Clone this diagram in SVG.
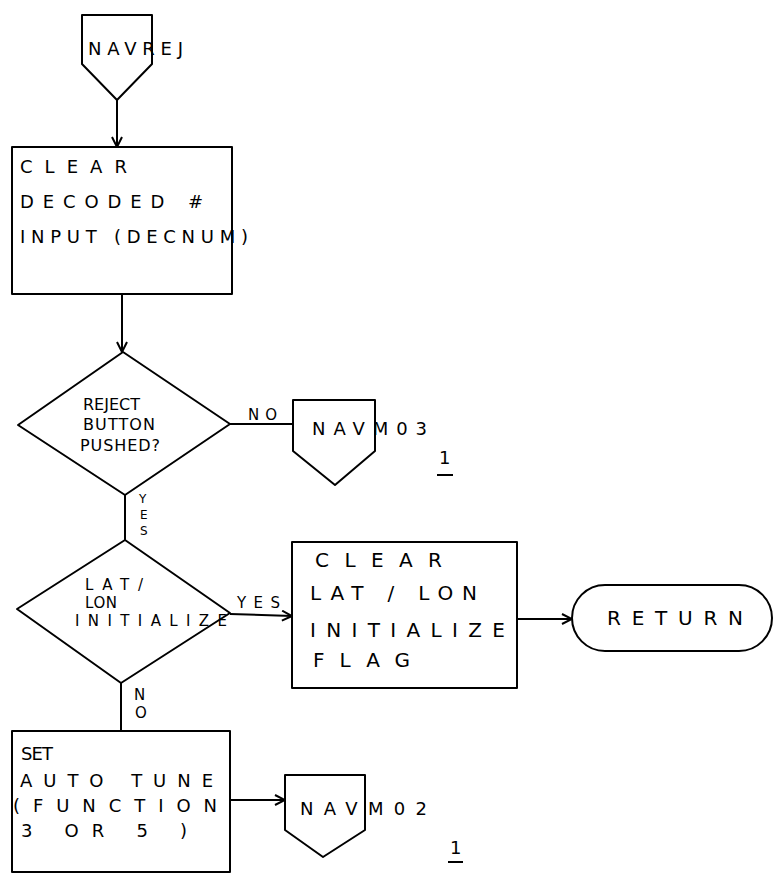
<svg xmlns="http://www.w3.org/2000/svg" width="775" height="875" viewBox="0 0 775 875">
  <style>
    .shape { fill: none; stroke: #000; stroke-width: 2; stroke-linejoin: round; }
    .wire { fill: none; stroke: #000; stroke-width: 2; }
    .t { font-family: "DejaVu Sans", "Liberation Sans", sans-serif; font-size: 18px; fill: #000; }
    .d { font-family: "DejaVu Sans", "Liberation Sans", sans-serif; font-size: 16px; fill: #000; }
    .s { font-family: "DejaVu Sans", "Liberation Sans", sans-serif; font-size: 15px; fill: #000; }
    .v { font-family: "DejaVu Sans", "Liberation Sans", sans-serif; font-size: 12px; fill: #000; }
    .big { font-family: "DejaVu Sans", "Liberation Sans", sans-serif; font-size: 20px; fill: #000; }
  </style>
  <defs>
    <marker id="arrow" viewBox="0 0 12 12" refX="11" refY="6" markerWidth="12" markerHeight="12" markerUnits="userSpaceOnUse" orient="auto">
      <path d="M1,1 L11,6 L1,11" fill="none" stroke="#000" stroke-width="2"/>
    </marker>
  </defs>
  <rect width="775" height="875" fill="#fff"/>

  <!-- connectors -->
  <g id="connectors">
    <line class="wire" x1="117" y1="100" x2="117" y2="147" marker-end="url(#arrow)"/>
    <line class="wire" x1="122" y1="294" x2="122" y2="352" marker-end="url(#arrow)"/>
    <line class="wire" x1="230" y1="424" x2="293" y2="424"/>
    <line class="wire" x1="125" y1="495" x2="125" y2="540"/>
    <line class="wire" x1="230" y1="614" x2="292" y2="616" marker-end="url(#arrow)"/>
    <line class="wire" x1="121" y1="683" x2="121" y2="731"/>
    <line class="wire" x1="517" y1="619" x2="572" y2="619" marker-end="url(#arrow)"/>
    <line class="wire" x1="230" y1="800" x2="285" y2="800" marker-end="url(#arrow)"/>
    <!-- branch labels -->
    <text class="s" x="248" y="420" textLength="29" lengthAdjust="spacing">NO</text>
    <text class="v" x="139" y="503">Y</text>
    <text class="v" x="140" y="519">E</text>
    <text class="v" x="140" y="535">S</text>
    <text class="s" x="237" y="608" textLength="43" lengthAdjust="spacing">YES</text>
    <text class="s" x="134" y="700">N</text>
    <text class="s" x="135" y="718">O</text>
  </g>

  <!-- entry connector -->
  <g id="navrej">
    <path class="shape" d="M82,15 L152,15 L152,64 L117,100 L82,64 Z"/>
    <text class="t" x="88" y="55" textLength="95" lengthAdjust="spacing">NAVREJ</text>
  </g>

  <g id="clear-decoded">
    <rect class="shape" x="12" y="147" width="220" height="147"/>
    <text class="t" x="20" y="173" textLength="107" lengthAdjust="spacing">CLEAR</text>
    <text class="t" x="20" y="208" textLength="183" lengthAdjust="spacing">DECODED #</text>
    <text class="t" x="20" y="243" textLength="228" lengthAdjust="spacing">INPUT (DECNUM)</text>
  </g>

  <g id="reject-pushed">
    <path class="shape" d="M123,352 L230,424 L125,495 L18,425 Z"/>
    <text class="d" x="83" y="410" textLength="57" lengthAdjust="spacing">REJECT</text>
    <text class="d" x="83" y="430" textLength="72" lengthAdjust="spacing">BUTTON</text>
    <text class="d" x="80" y="451" textLength="80" lengthAdjust="spacing">PUSHED?</text>
  </g>

  <g id="navm03">
    <path class="shape" d="M293,400 L375,400 L375,451 L335,485 L293,451 Z"/>
    <text class="t" x="312" y="435" textLength="115" lengthAdjust="spacing">NAVM03</text>
    <text class="t" x="439" y="464">1</text>
    <line class="wire" x1="437" y1="475" x2="453" y2="475"/>
  </g>

  <g id="latlon-init">
    <path class="shape" d="M125,540 L230,613 L121,683 L17,609 Z"/>
    <text class="s" x="85" y="590" textLength="58" lengthAdjust="spacing">LAT/</text>
    <text class="s" x="85" y="608" textLength="32" lengthAdjust="spacing">LON</text>
    <text class="s" x="75" y="626" textLength="152" lengthAdjust="spacing">INITIALIZE</text>
  </g>

  <g id="clear-flag">
    <rect class="shape" x="292" y="542" width="225" height="146"/>
    <text class="big" x="315" y="567" textLength="127" lengthAdjust="spacing">CLEAR</text>
    <text class="big" x="310" y="600" textLength="167" lengthAdjust="spacing">LAT / LON</text>
    <text class="big" x="310" y="637" textLength="195" lengthAdjust="spacing">INITIALIZE</text>
    <text class="big" x="313" y="667" textLength="97" lengthAdjust="spacing">FLAG</text>
  </g>

  <g id="return">
    <rect class="shape" x="572" y="585" width="200" height="66" rx="33" ry="33"/>
    <text class="big" x="607" y="625" textLength="136" lengthAdjust="spacing">RETURN</text>
  </g>

  <g id="set-autotune">
    <rect class="shape" x="12" y="731" width="218" height="141"/>
    <text class="t" x="21" y="760" textLength="32" lengthAdjust="spacing">SET</text>
    <text class="t" x="20" y="787" textLength="193" lengthAdjust="spacing">AUTO TUNE</text>
    <text class="t" x="13" y="812" textLength="204" lengthAdjust="spacing">(FUNCTION</text>
    <text class="t" x="21" y="837" textLength="166" lengthAdjust="spacing">3 OR 5 )</text>
  </g>

  <g id="navm02">
    <path class="shape" d="M285,775 L365,775 L365,830 L323,857 L285,830 Z"/>
    <text class="t" x="300" y="815" textLength="127" lengthAdjust="spacing">NAVM02</text>
    <text class="t" x="450" y="854">1</text>
    <line class="wire" x1="448" y1="862" x2="463" y2="862"/>
  </g>
</svg>
